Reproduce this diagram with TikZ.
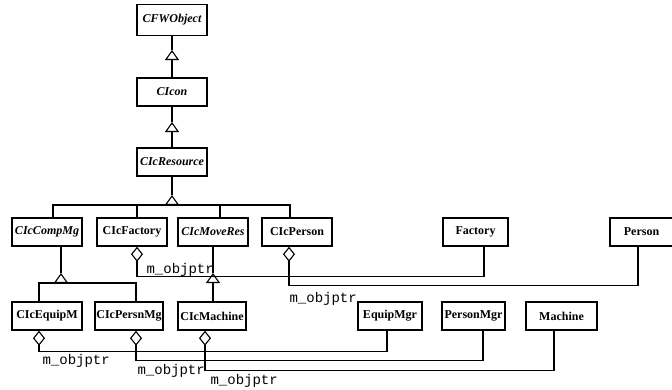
\documentclass[tikz,border=0pt]{standalone}
\usepackage{fontspec}
\setmainfont{Liberation Serif}
\setmonofont{Liberation Mono}
\usetikzlibrary{arrows.meta}

\tikzset{
  classbox/.style={draw, line width=1.4pt, minimum width=70pt, minimum height=28pt,
    inner sep=1pt, font=\bfseries\fontsize{12}{12}\selectfont},
  abstractbox/.style={classbox, font=\bfseries\itshape\fontsize{12}{12}\selectfont},
  gen/.style={-{Triangle[open, width=14pt, length=10pt]}},
  agg/.style={-{Diamond[open, width=12pt, length=15pt]}},
  ptr/.style={font=\ttfamily\fontsize{14}{14}\selectfont, inner sep=0pt, anchor=base west},
}

\begin{document}
\begin{tikzpicture}[x=1pt, y=-1pt, line width=1.1pt]
\useasboundingbox (0,0) rectangle (672,389);

%top chain
\node[abstractbox, minimum height=31pt] (cfwobject) at (172,20) {CFWObject};
\node[abstractbox] (cicon) at (172,92) {CIcon};
\node[abstractbox] (cicresource) at (172,162) {CIcResource};

\coordinate (g1) at (172,50);
\coordinate (g2) at (172,122);
\coordinate (g3tip) at (172,195);
\coordinate (g3) at (172,205);

\draw[gen] (cicon.north) -- (g1);
\draw (g1) -- (cfwobject.south);
\draw[gen] (cicresource.north) -- (g2);
\draw (g2) -- (cicon.south);
\draw[gen] (g3) -- (g3tip);
\draw (g3tip) -- (cicresource.south);

%second row
\node[abstractbox] (ccompmg) at (47,232) {CIcCompMg};
\node[classbox] (cfactory) at (132,232) {CIcFactory};
\node[abstractbox] (cmoveres) at (213,232) {CIcMoveRes};
\node[classbox] (cperson) at (297,232) {CIcPerson};
\node[classbox, minimum width=65pt] (rfactory) at (475.5,232) {Factory};
\node[classbox, minimum width=63pt] (rperson) at (641.5,232) {Person};

\draw ([xshift=6pt]ccompmg.north) |- (g3);
\draw ([xshift=5pt]cfactory.north) |- (g3);
\draw ([xshift=7pt]cmoveres.north) |- (g3);
\draw ([xshift=-7pt]cperson.north) |- (g3);

%third row
\node[classbox] (cequipm) at (47,316) {CIcEquipM};
\node[classbox, minimum width=68pt] (cpersnmg) at (129,316) {CIcPersnMg};
\node[classbox, minimum width=68pt] (cmachine) at (212,316) {CIcMachine};
\node[classbox, minimum width=64pt] (requipmgr) at (390,316) {EquipMgr};
\node[classbox, minimum width=63pt] (rpersonmgr) at (473.5,316) {PersonMgr};
\node[classbox, minimum width=71pt] (rmachine) at (561.5,316) {Machine};

\coordinate (g4tip) at (61,273);
\coordinate (g4) at (61,283);
\coordinate (g5tip) at (213,273);

\draw ([xshift=-8pt]cequipm.north) |- (g4);
\draw ([xshift=7pt]cpersnmg.north) |- (g4);
\draw[gen] (g4) -- (g4tip);
\draw (g4tip) -- ([xshift=14pt]ccompmg.south);
\draw[gen] ([xshift=1pt]cmachine.north) -- (g5tip);
\draw (g5tip) -- (cmoveres.south);

%m_objptr links
\draw[agg] ([xshift=8.5pt]rfactory.south) |- ([xshift=5pt,yshift=-30pt]cfactory.south) -- ([xshift=5pt]cfactory.south);
\draw[agg] ([xshift=-3.5pt]rperson.south) |- ([xshift=-8pt,yshift=-39pt]cperson.south) -- ([xshift=-8pt]cperson.south);
\draw[agg] ([xshift=-3pt]requipmgr.south) |- ([xshift=-8pt,yshift=-21pt]cequipm.south) -- ([xshift=-8pt]cequipm.south);
\draw[agg] ([xshift=9.5pt]rpersonmgr.south) |- ([xshift=7pt,yshift=-30pt]cpersnmg.south) -- ([xshift=7pt]cpersnmg.south);
\draw[agg] ([xshift=-7.5pt]rmachine.south) |- ([xshift=-7pt,yshift=-40pt]cmachine.south) -- ([xshift=-7pt]cmachine.south);

\node[ptr] (ptrfactory) at (146,273) {m\_objptr};
\node[ptr] (ptrperson) at (289,302) {m\_objptr};
\node[ptr] (ptrequipm) at (42,364) {m\_objptr};
\node[ptr] (ptrpersnmg) at (137,374) {m\_objptr};
\node[ptr] (ptrmachine) at (210,384) {m\_objptr};
\end{tikzpicture}
\end{document}
